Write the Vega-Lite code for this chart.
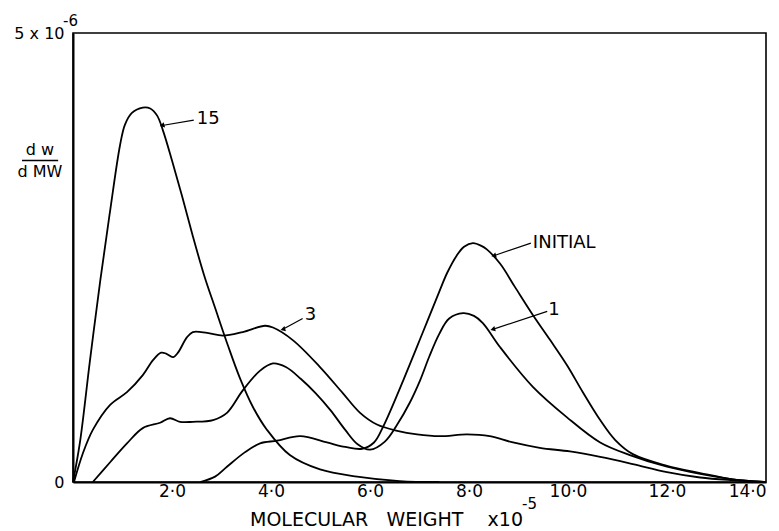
{
  "$schema": "https://vega.github.io/schema/vega-lite/v6.json",
  "width": 693,
  "height": 449,
  "autosize": "none",
  "padding": {"left": 73, "top": 33, "right": 13, "bottom": 49},
  "background": "white",
  "config": {
    "view": {"stroke": "black", "strokeWidth": 1.6},
    "font": "DejaVu Sans",
    "axis": {"grid": false, "labelColor": "black", "titleColor": "black", "labelFont": "DejaVu Sans", "titleFont": "DejaVu Sans"}
  },
  "datasets": {
    "curves": [
      {"series": "15", "x": 0, "y": 0}, {"series": "15", "x": 0.14, "y": 0.44}, {"series": "15", "x": 0.34, "y": 1.34}, {"series": "15", "x": 0.55, "y": 2.24}, {"series": "15", "x": 0.75, "y": 3.02}, {"series": "15", "x": 0.95, "y": 3.75}, {"series": "15", "x": 1.05, "y": 3.98}, {"series": "15", "x": 1.19, "y": 4.11}, {"series": "15", "x": 1.41, "y": 4.17}, {"series": "15", "x": 1.56, "y": 4.16}, {"series": "15", "x": 1.7, "y": 4.08}, {"series": "15", "x": 1.82, "y": 3.91}, {"series": "15", "x": 2.0, "y": 3.58}, {"series": "15", "x": 2.2, "y": 3.19}, {"series": "15", "x": 2.42, "y": 2.74}, {"series": "15", "x": 2.65, "y": 2.3}, {"series": "15", "x": 2.87, "y": 1.94}, {"series": "15", "x": 3.13, "y": 1.52}, {"series": "15", "x": 3.37, "y": 1.16}, {"series": "15", "x": 3.64, "y": 0.83}, {"series": "15", "x": 3.92, "y": 0.58}, {"series": "15", "x": 4.38, "y": 0.3}, {"series": "15", "x": 4.99, "y": 0.14}, {"series": "15", "x": 5.74, "y": 0.06}, {"series": "15", "x": 6.6, "y": 0.01}, {"series": "15", "x": 7.4, "y": 0},
      {"series": "3", "x": 0.02, "y": 0}, {"series": "3", "x": 0.2, "y": 0.32}, {"series": "3", "x": 0.4, "y": 0.58}, {"series": "3", "x": 0.75, "y": 0.86}, {"series": "3", "x": 1.09, "y": 1.0}, {"series": "3", "x": 1.41, "y": 1.19}, {"series": "3", "x": 1.62, "y": 1.36}, {"series": "3", "x": 1.78, "y": 1.44}, {"series": "3", "x": 1.88, "y": 1.43}, {"series": "3", "x": 2.02, "y": 1.39}, {"series": "3", "x": 2.12, "y": 1.44}, {"series": "3", "x": 2.3, "y": 1.61}, {"series": "3", "x": 2.42, "y": 1.67}, {"series": "3", "x": 2.71, "y": 1.66}, {"series": "3", "x": 3.03, "y": 1.63}, {"series": "3", "x": 3.43, "y": 1.67}, {"series": "3", "x": 3.88, "y": 1.74}, {"series": "3", "x": 4.04, "y": 1.72}, {"series": "3", "x": 4.44, "y": 1.58}, {"series": "3", "x": 4.99, "y": 1.28}, {"series": "3", "x": 5.45, "y": 0.99}, {"series": "3", "x": 5.8, "y": 0.77}, {"series": "3", "x": 6.14, "y": 0.64}, {"series": "3", "x": 6.55, "y": 0.57}, {"series": "3", "x": 6.95, "y": 0.53}, {"series": "3", "x": 7.41, "y": 0.51}, {"series": "3", "x": 7.96, "y": 0.53}, {"series": "3", "x": 8.42, "y": 0.51}, {"series": "3", "x": 8.89, "y": 0.44}, {"series": "3", "x": 9.43, "y": 0.38}, {"series": "3", "x": 10.04, "y": 0.34}, {"series": "3", "x": 10.65, "y": 0.28}, {"series": "3", "x": 11.31, "y": 0.2}, {"series": "3", "x": 12.0, "y": 0.11}, {"series": "3", "x": 12.67, "y": 0.05}, {"series": "3", "x": 13.33, "y": 0.02}, {"series": "3", "x": 14, "y": 0},
      {"series": "1", "x": 0.4, "y": 0}, {"series": "1", "x": 0.75, "y": 0.22}, {"series": "1", "x": 1.09, "y": 0.43}, {"series": "1", "x": 1.41, "y": 0.6}, {"series": "1", "x": 1.76, "y": 0.66}, {"series": "1", "x": 1.96, "y": 0.71}, {"series": "1", "x": 2.16, "y": 0.67}, {"series": "1", "x": 2.42, "y": 0.67}, {"series": "1", "x": 2.83, "y": 0.69}, {"series": "1", "x": 3.11, "y": 0.77}, {"series": "1", "x": 3.43, "y": 1.02}, {"series": "1", "x": 3.78, "y": 1.24}, {"series": "1", "x": 4.04, "y": 1.32}, {"series": "1", "x": 4.3, "y": 1.28}, {"series": "1", "x": 4.6, "y": 1.15}, {"series": "1", "x": 4.9, "y": 0.99}, {"series": "1", "x": 5.2, "y": 0.8}, {"series": "1", "x": 5.5, "y": 0.58}, {"series": "1", "x": 5.75, "y": 0.42}, {"series": "1", "x": 6.0, "y": 0.36}, {"series": "1", "x": 6.3, "y": 0.45}, {"series": "1", "x": 6.55, "y": 0.64}, {"series": "1", "x": 6.8, "y": 0.88}, {"series": "1", "x": 7.01, "y": 1.13}, {"series": "1", "x": 7.2, "y": 1.4}, {"series": "1", "x": 7.4, "y": 1.65}, {"series": "1", "x": 7.6, "y": 1.82}, {"series": "1", "x": 7.88, "y": 1.88}, {"series": "1", "x": 8.1, "y": 1.85}, {"series": "1", "x": 8.28, "y": 1.77}, {"series": "1", "x": 8.63, "y": 1.5}, {"series": "1", "x": 9.29, "y": 1.06}, {"series": "1", "x": 9.98, "y": 0.72}, {"series": "1", "x": 10.65, "y": 0.44}, {"series": "1", "x": 11.25, "y": 0.3}, {"series": "1", "x": 12.0, "y": 0.17}, {"series": "1", "x": 12.67, "y": 0.09}, {"series": "1", "x": 13.33, "y": 0.03}, {"series": "1", "x": 14, "y": 0},
      {"series": "INITIAL", "x": 2.57, "y": 0}, {"series": "INITIAL", "x": 2.87, "y": 0.06}, {"series": "INITIAL", "x": 3.11, "y": 0.17}, {"series": "INITIAL", "x": 3.47, "y": 0.33}, {"series": "INITIAL", "x": 3.78, "y": 0.43}, {"series": "INITIAL", "x": 4.12, "y": 0.46}, {"series": "INITIAL", "x": 4.59, "y": 0.51}, {"series": "INITIAL", "x": 5.13, "y": 0.44}, {"series": "INITIAL", "x": 5.5, "y": 0.39}, {"series": "INITIAL", "x": 5.84, "y": 0.37}, {"series": "INITIAL", "x": 6.08, "y": 0.44}, {"series": "INITIAL", "x": 6.26, "y": 0.61}, {"series": "INITIAL", "x": 6.67, "y": 1.13}, {"series": "INITIAL", "x": 7.07, "y": 1.67}, {"series": "INITIAL", "x": 7.4, "y": 2.12}, {"series": "INITIAL", "x": 7.56, "y": 2.33}, {"series": "INITIAL", "x": 7.75, "y": 2.52}, {"series": "INITIAL", "x": 7.9, "y": 2.62}, {"series": "INITIAL", "x": 8.08, "y": 2.66}, {"series": "INITIAL", "x": 8.25, "y": 2.63}, {"series": "INITIAL", "x": 8.36, "y": 2.59}, {"series": "INITIAL", "x": 8.63, "y": 2.43}, {"series": "INITIAL", "x": 8.93, "y": 2.17}, {"series": "INITIAL", "x": 9.29, "y": 1.86}, {"series": "INITIAL", "x": 9.64, "y": 1.58}, {"series": "INITIAL", "x": 9.98, "y": 1.3}, {"series": "INITIAL", "x": 10.3, "y": 1.0}, {"series": "INITIAL", "x": 10.65, "y": 0.69}, {"series": "INITIAL", "x": 10.95, "y": 0.47}, {"series": "INITIAL", "x": 11.31, "y": 0.31}, {"series": "INITIAL", "x": 12.0, "y": 0.18}, {"series": "INITIAL", "x": 12.67, "y": 0.1}, {"series": "INITIAL", "x": 13.33, "y": 0.03}, {"series": "INITIAL", "x": 14, "y": 0}
    ],
    "arrows": [
      {"label": "15", "x": 2.44, "y": 4.03, "x2": 1.8, "y2": 3.97},
      {"label": "INITIAL", "x": 9.25, "y": 2.66, "x2": 8.5, "y2": 2.52},
      {"label": "1", "x": 9.58, "y": 1.9, "x2": 8.48, "y2": 1.7},
      {"label": "3", "x": 4.64, "y": 1.82, "x2": 4.24, "y2": 1.7}
    ],
    "labels": [
      {"label": "15", "x": 2.5, "y": 4.04},
      {"label": "INITIAL", "x": 9.29, "y": 2.66},
      {"label": "1", "x": 9.6, "y": 1.91},
      {"label": "3", "x": 4.68, "y": 1.86}
    ],
    "ytitle": [
      {"label": "d w", "x": -0.67, "y": 3.7},
      {"label": "d MW", "x": -0.67, "y": 3.45}
    ],
    "ybar": [
      {"x": -1.03, "x2": -0.3, "y": 3.58}
    ],
    "sup": [
      {"label": "-6", "x": -0.2, "y": 5.13},
      {"label": "-5", "x": 9.07, "y": -0.245}
    ]
  },
  "encoding": {
    "x": {
      "field": "x", "type": "quantitative",
      "scale": {"domain": [0, 14], "nice": false, "zero": false},
      "axis": {
        "values": [2, 4, 6, 8, 10, 12, 14],
        "labelExpr": "replace(format(datum.value, '.1f'), '.', '·')",
        "labelFontSize": 17, "labelPadding": 1,
        "ticks": false,
        "domainColor": "black", "domainWidth": 2.2,
        "title": "MOLECULAR\u00a0\u00a0\u00a0WEIGHT\u00a0\u00a0\u00a0\u00a0x10",
        "titleFontSize": 19, "titleFontWeight": "normal", "titlePadding": 11,
        "titleX": 313, "titleAlign": "center"
      }
    },
    "y": {
      "field": "y", "type": "quantitative",
      "scale": {"domain": [0, 5], "nice": false, "zero": false},
      "axis": {
        "values": [0, 5],
        "labelExpr": "datum.value == 5 ? '5 x 10' : '0'",
        "labelFontSize": 16, "labelPadding": 9, "tickSize": 0,
        "domainColor": "black", "domainWidth": 2,
        "title": null
      }
    }
  },
  "layer": [
    {
      "data": {"name": "curves"},
      "mark": {"type": "line", "color": "black", "strokeWidth": 1.8, "interpolate": "catmull-rom"},
      "encoding": {"detail": {"field": "series"}}
    },
    {
      "data": {"name": "arrows"},
      "mark": {"type": "rule", "color": "black", "strokeWidth": 1.2},
      "encoding": {"x2": {"field": "x2"}, "y2": {"field": "y2"}}
    },
    {
      "data": {"name": "arrows"},
      "mark": {"type": "point", "shape": "triangle-left", "filled": true, "color": "black", "size": 30, "opacity": 1, "angle": 345},
      "encoding": {"x": {"field": "x2", "type": "quantitative"}, "y": {"field": "y2", "type": "quantitative"}}
    },
    {
      "data": {"name": "labels"},
      "mark": {"type": "text", "align": "left", "baseline": "middle", "fontSize": 18, "color": "black", "font": "DejaVu Sans"},
      "encoding": {"text": {"field": "label"}}
    },
    {
      "data": {"name": "ytitle"},
      "mark": {"type": "text", "align": "center", "baseline": "middle", "fontSize": 16, "color": "black", "font": "DejaVu Sans", "clip": false},
      "encoding": {"text": {"field": "label"}}
    },
    {
      "data": {"name": "ybar"},
      "mark": {"type": "rule", "color": "black", "strokeWidth": 1.5, "clip": false},
      "encoding": {"x2": {"field": "x2"}}
    },
    {
      "data": {"name": "sup"},
      "mark": {"type": "text", "align": "left", "baseline": "middle", "fontSize": 15, "color": "black", "font": "DejaVu Sans", "clip": false},
      "encoding": {"text": {"field": "label"}}
    }
  ]
}
